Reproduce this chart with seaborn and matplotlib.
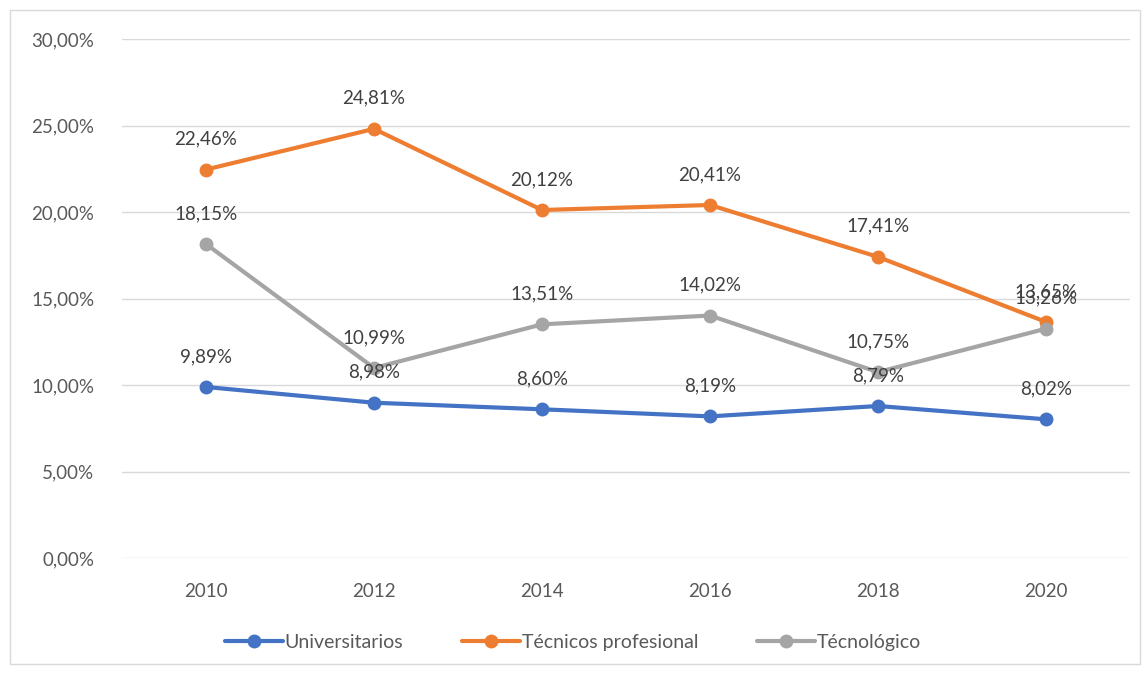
import pandas as pd
import seaborn as sns
import matplotlib.pyplot as plt
from matplotlib.patches import Rectangle
from matplotlib.ticker import FuncFormatter

# datos
anios = ["2010", "2012", "2014", "2016", "2018", "2020"]
universitarios = [9.89, 8.98, 8.60, 8.19, 8.79, 8.02]
tecnicos = [22.46, 24.81, 20.12, 20.41, 17.41, 13.65]
tecnologico = [18.15, 10.99, 13.51, 14.02, 10.75, 13.26]
series = ["Universitarios", "Técnicos profesional", "Técnológico"]
colores = ["#4472C4", "#ED7D31", "#A5A5A5"]

sns.set_style("white")
plt.rcParams["font.family"] = ["Lato", "DejaVu Sans"]

filas = []
for nombre, vals in zip(series, [universitarios, tecnicos, tecnologico]):
    for a, v in zip(anios, vals):
        filas.append({"anio": a, "valor": v, "serie": nombre})
df = pd.DataFrame(filas)

fig = plt.figure(figsize=(11.46, 6.74), dpi=100)
ax = fig.add_axes([0.1065, 0.172, 0.8795, 0.77])

sns.lineplot(data=df, x="anio", y="valor", hue="serie", palette=colores,
             marker="o", markersize=10, markeredgewidth=0, linewidth=3,
             sort=False, ax=ax, zorder=3)

def fmt(v):
    return ("%.2f" % v).replace(".", ",") + "%"

# etiquetas de datos (en 2020 se pisan igual que en el original)
for vals in [universitarios, tecnicos, tecnologico]:
    for i, v in enumerate(vals):
        ax.annotate(fmt(v), (i, v), xytext=(0, 22), textcoords="offset points",
                    ha="center", va="center", fontsize=13.5, color="#404040", zorder=4)

ax.set_ylim(0, 30)
ax.set_xlim(-0.5, 5.5)
ax.set_yticks(range(0, 31, 5))
ax.yaxis.set_major_formatter(FuncFormatter(lambda v, p: ("%.2f" % v).replace(".", ",") + "%"))
ax.grid(axis="y", color="#D9D9D9", linewidth=1)
ax.set_axisbelow(True)
for s in ax.spines.values():
    s.set_visible(False)
ax.tick_params(axis="both", length=0, labelsize=13.5, labelcolor="#595959", pad=18)
ax.tick_params(axis="y", pad=20)
ax.set_xlabel("")
ax.set_ylabel("")

ax.legend_.remove()
handles, labels = ax.get_legend_handles_labels()
fig.legend(handles, labels, loc="center", bbox_to_anchor=(0.5, 0.047), ncol=3,
           frameon=False, fontsize=14, handlelength=3.0, handletextpad=0.1,
           columnspacing=3.0, labelcolor="#595959")

fig.patches.append(Rectangle((10 / 1146, 10 / 674), 1130 / 1146, 654 / 674,
                             transform=fig.transFigure, fill=False,
                             edgecolor="#D9D9D9", linewidth=1))

fig.savefig("out.png", dpi=100)
